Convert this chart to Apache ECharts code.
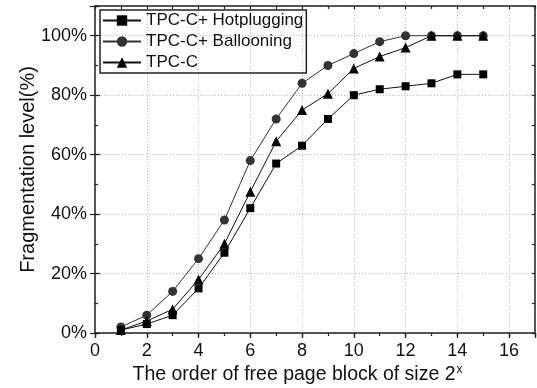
<!DOCTYPE html>
<html>
<head>
<meta charset="utf-8">
<script src="https://cdn.jsdelivr.net/npm/echarts@6/dist/echarts.min.js"></script>
<style>html,body{margin:0;padding:0;background:#fff}#c{width:537px;height:388px}</style>
</head>
<body>
<div id="c"></div>
<script>
const xValues = [1,2,3,4,5,6,7,8,9,10,11,12,13,14,15];
const hotplugging = [1,3,6,15,27,42,57,63,72,80,82,83,84,87,87];
const ballooning = [2,6,14,25,38,58,72,84,90,94,98,100,100,100,100];
const tpcc = [1,4,8,18,30,47.5,64.5,75,80.5,89,93,96,100,100,100];
const seriesNames = ['TPC-C+ Hotplugging','TPC-C+ Ballooning','TPC-C'];
const xTickLabels = ['0','2','4','6','8','10','12','14','16'];
const yTickLabels = ['0%','20%','40%','60%','80%','100%'];

const pair = arr => xValues.map((x,i)=>[x,arr[i]]);
const font = '"Liberation Sans", Arial, Helvetica, sans-serif';
const axisColor = '#222';

function tickOnly(extra){
  return Object.assign({
    type:'value', axisLine:{show:false}, axisLabel:{show:false}, splitLine:{show:false}
  }, extra);
}

const chart = echarts.init(document.getElementById('c'), null, {renderer:'canvas'});
chart.setOption({
  animation:false,
  backgroundColor:'#fff',
  grid:{left:95, right:2, top:6, bottom:55, containLabel:false, outerBoundsMode:'none'},
  legend:{
    orient:'vertical', left:100, top:10,
    borderColor:'#222', borderWidth:1.5, borderRadius:0,
    padding:[2,3,2,2], itemGap:4, itemWidth:38, itemHeight:13,
    textStyle:{fontFamily:font, fontSize:17, lineHeight:17, color:'#111'},
    data:seriesNames
  },
  xAxis:[
    {type:'value', position:'bottom', min:0, max:17, interval:2,
     axisLine:{onZero:false, lineStyle:{color:axisColor, width:1.5}},
     axisTick:{inside:false, length:5, lineStyle:{color:axisColor, width:1.2}},
     axisLabel:{margin:9, fontFamily:font, fontSize:18, color:'#111',
       formatter:v=>{const i=xTickLabels.indexOf(String(v)); return i>=0?xTickLabels[i]:'';}},
     splitLine:{show:true, lineStyle:{color:'#b8b8b8', type:[1,2], width:1}},
     name:'{a|The order of free page block of size 2}{s|x}',
     nameLocation:'middle', nameGap:31, nameMoveOverlap:false,
     nameTextStyle:{fontFamily:font, color:'#111', padding:[0,35,0,0],
       rich:{a:{fontFamily:font, fontSize:19.5, color:'#111', lineHeight:22},
             s:{fontFamily:font, fontSize:12, color:'#111', lineHeight:12, padding:[0,0,11,1]}}}
    },
    tickOnly({position:'bottom', min:0, max:17, interval:1,
      axisTick:{inside:false, length:3, lineStyle:{color:axisColor, width:1.2}}}),
    tickOnly({position:'top', min:0, max:17, interval:1,
      axisLine:{show:true, onZero:false, lineStyle:{color:axisColor, width:1.5}},
      axisTick:{inside:true, length:3, lineStyle:{color:axisColor, width:1.2}}}),
    tickOnly({position:'top', min:0, max:17, interval:2,
      axisTick:{inside:true, length:5, lineStyle:{color:axisColor, width:1.2}}})
  ],
  yAxis:[
    {type:'value', position:'left', min:0, max:110, interval:20,
     axisLine:{show:true, onZero:false, lineStyle:{color:axisColor, width:1.5}},
     axisTick:{show:true, inside:true, length:5, lineStyle:{color:axisColor, width:1.2}},
     axisLabel:{margin:8, fontFamily:font, fontSize:18, color:'#111',
       formatter:v=>{const s=v+'%'; return yTickLabels.indexOf(s)>=0?s:'';}},
     splitLine:{show:true, lineStyle:{color:'#b8b8b8', type:[1,2], width:1}},
     name:'Fragmentation level(%)', nameLocation:'middle', nameGap:57, nameRotate:90,
     nameMoveOverlap:false,
     nameTextStyle:{fontFamily:font, fontSize:20, color:'#111'}
    },
    tickOnly({position:'left', min:0, max:110, interval:10,
      axisTick:{show:true, inside:true, length:3, lineStyle:{color:axisColor, width:1.2}}}),
    tickOnly({position:'right', min:0, max:110, interval:10,
      axisLine:{show:true, onZero:false, lineStyle:{color:axisColor, width:1.5}},
      axisTick:{show:true, inside:true, length:3, lineStyle:{color:axisColor, width:1.2}}}),
    tickOnly({position:'right', min:0, max:110, interval:20,
      axisTick:{show:true, inside:true, length:5, lineStyle:{color:axisColor, width:1.2}}})
  ],
  series:[
    {name:seriesNames[0], type:'line', data:pair(hotplugging), symbol:'rect', symbolSize:8,
     itemStyle:{color:'#000'}, lineStyle:{color:'#111', width:1}, z:3},
    {name:seriesNames[1], type:'line', data:pair(ballooning), symbol:'circle', symbolSize:9,
     itemStyle:{color:'#333'}, lineStyle:{color:'#333', width:1}, z:2},
    {name:seriesNames[2], type:'line', data:pair(tpcc), symbol:'triangle', symbolSize:10,
     itemStyle:{color:'#000'}, lineStyle:{color:'#111', width:1}, z:4}
  ]
});
</script>
</body>
</html>
